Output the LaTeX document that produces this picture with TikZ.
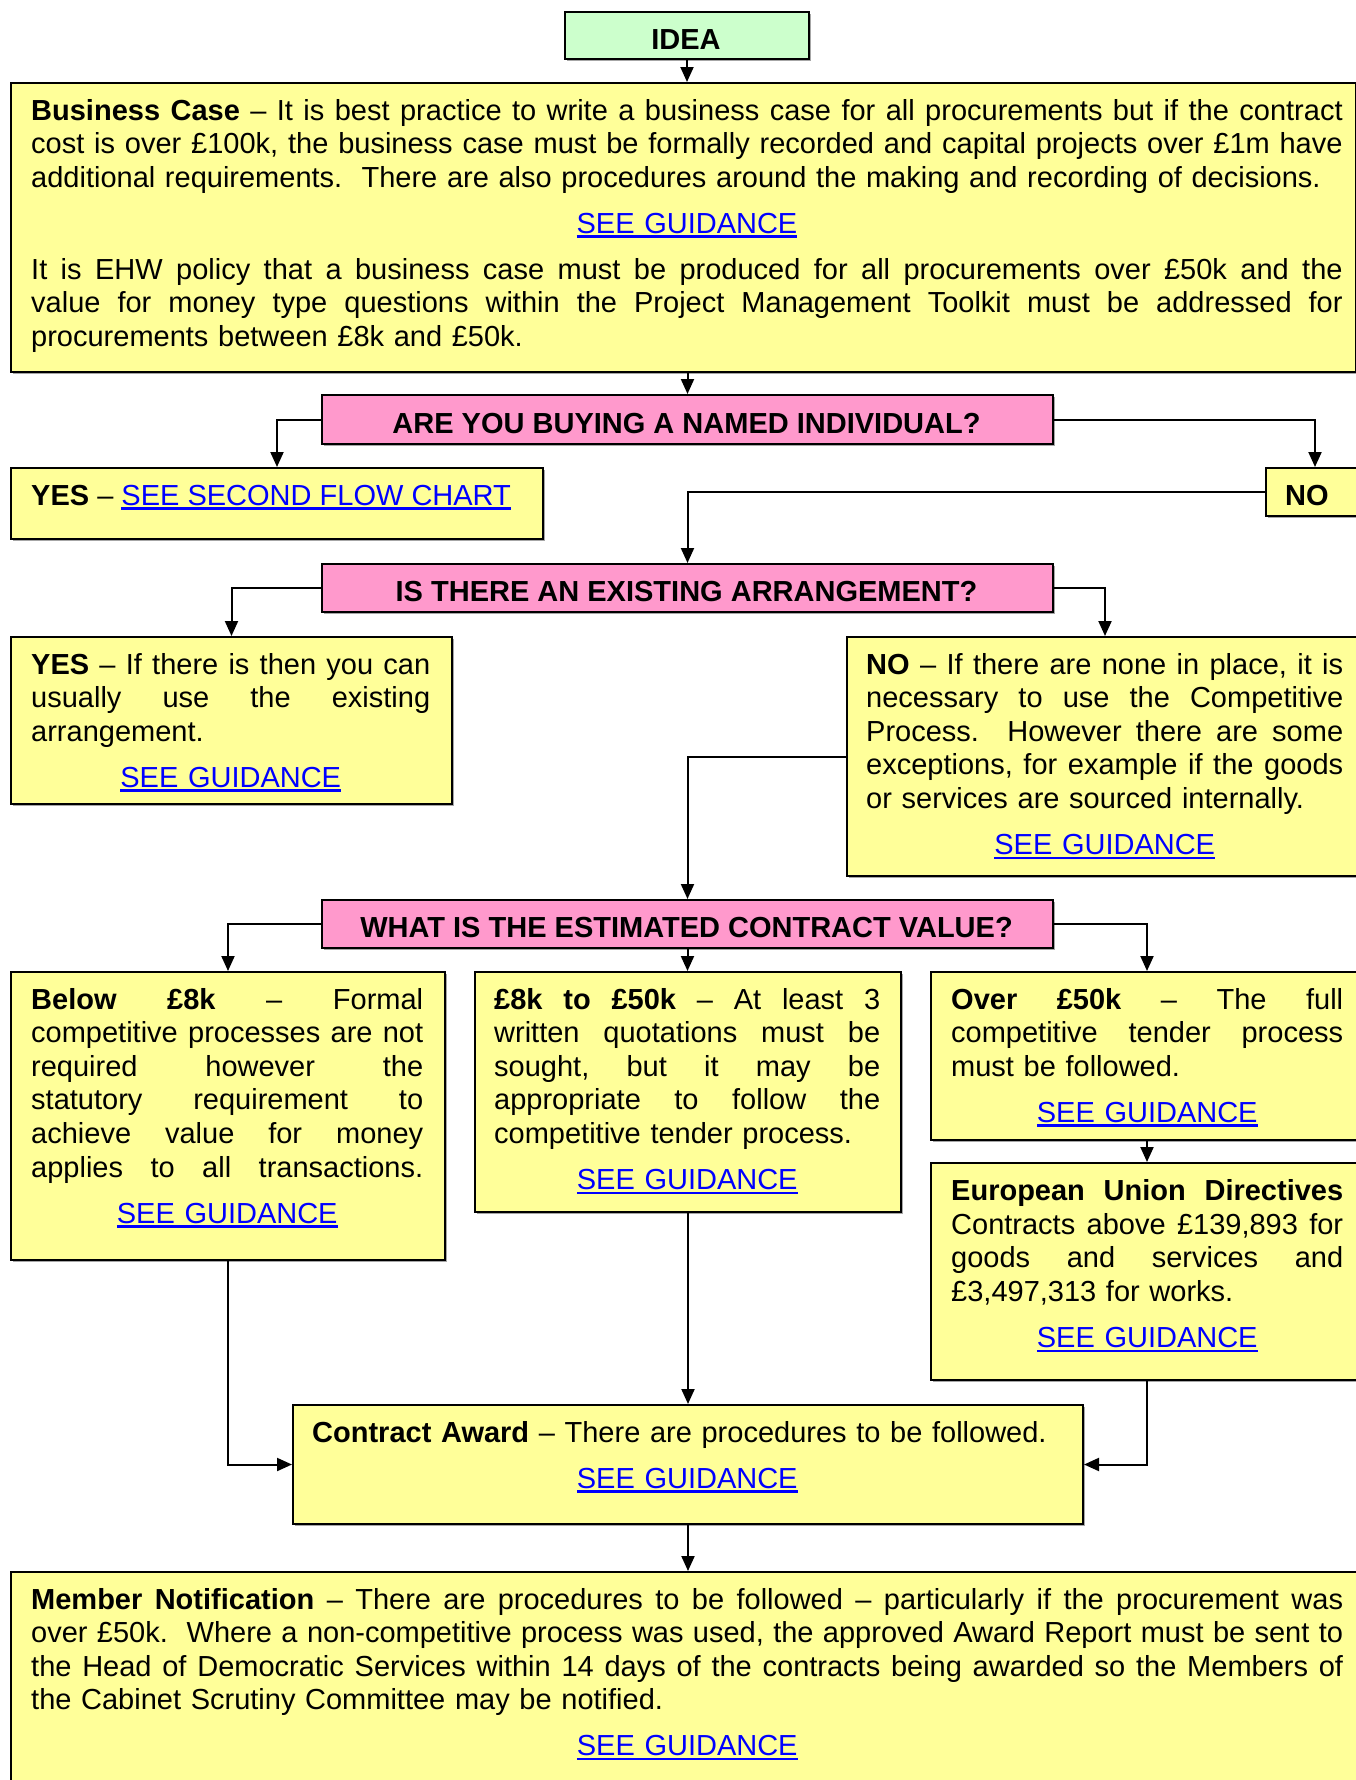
\documentclass[tikz,border=0pt]{standalone}
\usepackage{fontspec}
\setmainfont{Liberation Sans}
\usetikzlibrary{arrows.meta,shadows}
\definecolor{boxyellow}{HTML}{FFFF99}
\definecolor{qpink}{HTML}{FF99CC}
\definecolor{ideagreen}{HTML}{CCFFCC}
\definecolor{linkblue}{HTML}{0000FF}
\newcommand\fs{\fontsize{29.0pt}{33.6pt}\selectfont\frenchspacing}
\newcommand\jl[1]{{\spaceskip=0.278em plus 1fil minus 0.09em\relax\hbox to \hsize{#1}}\par}
\newcommand\gapv{\vspace{12.4pt}}
\newcommand\guidel[1]{{\color{linkblue}\setbox0=\hbox{#1}\rlap{\rule[-4.6pt]{\wd0}{2.4pt}}\box0}}
\newcommand\glink{\hbox to \hsize{\hss\guidel{SEE GUIDANCE}\hss}\par}
\begin{document}
\begin{tikzpicture}[x=1pt,y=-1pt,
  shapebox/.style={draw, line width=2pt, inner sep=0pt, anchor=north west,
    drop shadow={shadow xshift=1.5pt,shadow yshift=-1.5pt,opacity=1,fill=black!35}},
  ybox/.style={shapebox, fill=boxyellow},
  pbox/.style={shapebox, fill=qpink},
  gbox/.style={shapebox, fill=ideagreen},
  txt/.style={inner sep=0pt, anchor=base west, font=\fs},
  ctxt/.style={inner sep=0pt, anchor=base, font=\fs\bfseries},
  arr/.style={draw, line width=2pt, -{Triangle[length=15pt,width=13pt]}}
]
\fill[white] (0,0) rectangle (1356,1780);
\useasboundingbox (0,0) rectangle (1356,1780);

% boxes
\node[gbox, minimum width=244pt, minimum height=47pt] (idea) at (564,11) {};
\node[ybox, minimum width=1345pt, minimum height=289pt] (bc) at (10,82) {};
\node[pbox, minimum width=731pt, minimum height=49pt] (q1) at (321,394) {};
\node[ybox, minimum width=532pt, minimum height=71pt] (yes1) at (10,467) {};
\node[ybox, minimum width=98pt, minimum height=48pt] (no1) at (1265,467) {};
\node[pbox, minimum width=731pt, minimum height=48pt] (q2) at (321,563) {};
\node[ybox, minimum width=441pt, minimum height=167pt] (yes2) at (10,636) {};
\node[ybox, minimum width=516pt, minimum height=239pt] (no2) at (846,636) {};
\node[pbox, minimum width=731pt, minimum height=48pt] (q3) at (321,899) {};
\node[ybox, minimum width=434pt, minimum height=288pt] (a) at (10,971) {};
\node[ybox, minimum width=426pt, minimum height=240pt] (b) at (474,971) {};
\node[ybox, minimum width=432pt, minimum height=168pt] (c) at (930,971) {};
\node[ybox, minimum width=432pt, minimum height=217pt] (d) at (930,1162) {};
\node[ybox, minimum width=790pt, minimum height=119pt] (ca) at (292,1404) {};
\node[ybox, minimum width=1352pt, minimum height=230pt] (mn) at (10,1571) {};

% texts
\node[ctxt] (ideat) at (686,49) {IDEA};
\node[ctxt] (q1t) at (686.5,433) {ARE YOU BUYING A NAMED INDIVIDUAL?};
\node[ctxt] (q2t) at (686.5,601) {IS THERE AN EXISTING ARRANGEMENT?};
\node[ctxt] (q3t) at (686.5,937) {WHAT IS THE ESTIMATED CONTRACT VALUE?};

\node[txt, text width=1311.5pt] (bct) at (31,120) {%
\jl{\textbf{Business Case} – It is best practice to write a business case for all procurements but if the contract}
\jl{cost is over £100k, the business case must be formally recorded and capital projects over £1m have}
additional requirements.\ \ There are also procedures around the making and recording of decisions.\par
\gapv\glink\gapv
\jl{It is EHW policy that a business case must be produced for all procurements over £50k and the}
\jl{value for money type questions within the Project Management Toolkit must be addressed for}
procurements between £8k and £50k.\par};

\node[txt] (yes1t) at (31,505) {\textbf{YES} – \guidel{SEE SECOND FLOW CHART}};
\node[txt] (no1t) at (1285,505) {\textbf{NO}};

\node[txt, text width=399pt] (yes2t) at (31,674) {%
\jl{\textbf{YES} – If there is then you can}
\jl{usually use the existing}
arrangement.\par
\gapv\glink};

\node[txt, text width=477pt] (no2t) at (866,674) {%
\jl{\textbf{NO} – If there are none in place, it is}
\jl{necessary to use the Competitive}
\jl{Process.\ \ However there are some}
\jl{exceptions, for example if the goods}
or services are sourced internally.\par
\gapv\glink};

\node[txt, text width=392pt] (at) at (31,1009) {%
\jl{\textbf{Below £8k} – Formal}
\jl{competitive processes are not}
\jl{required however the}
\jl{statutory requirement to}
\jl{achieve value for money}
\jl{applies to all transactions.}
\gapv\glink};

\node[txt, text width=386pt] (bt) at (494,1009) {%
\jl{\textbf{£8k to £50k} – At least 3}
\jl{written quotations must be}
\jl{sought, but it may be}
\jl{appropriate to follow the}
competitive tender process.\par
\gapv\glink};

\node[txt, text width=392pt] (ct) at (951,1009) {%
\jl{\textbf{Over £50k} – The full}
\jl{competitive tender process}
must be followed.\par
\gapv\glink};

\node[txt, text width=392pt] (dt) at (951,1200.5) {%
\jl{\textbf{European Union Directives}}
\jl{Contracts above £139,893 for}
\jl{goods and services and}
£3,497,313 for works.\par
\gapv\glink};

\node[txt, text width=750pt] (cat) at (312,1442) {%
\textbf{Contract Award} – There are procedures to be followed.\par
\gapv\glink};

\node[txt, text width=1312pt] (mnt) at (31,1609) {%
\jl{\textbf{Member Notification} – There are procedures to be followed – particularly if the procurement was}
\jl{over £50k.\ \ Where a non-competitive process was used, the approved Award Report must be sent to}
\jl{the Head of Democratic Services within 14 days of the contracts being awarded so the Members of}
the Cabinet Scrutiny Committee may be notified.\par
\gapv\glink};

% connectors
\draw[arr] (idea.south) -- (idea.south |- bc.north);
\draw[arr] (q1.north |- bc.south) -- (q1.north);
\draw[arr] (q1.west) -| (yes1.north);
\draw[arr] (q1.east) -| (no1.north);
\draw[arr] (no1.west) -| (q2.north);
\draw[arr] (q2.west) -| (yes2.north);
\draw[arr] (q2.east) -| (no2.north);
\draw[arr] (no2.west) -| (q3.north);
\draw[arr] (q3.west) -| (a.north);
\draw[arr] (q3.south) -- (q3.south |- b.north);
\draw[arr] (q3.east) -| (c.north);
\draw[arr] (c.south) -- (d.north);
\draw[arr] (a.south) |- (ca.west);
\draw[arr] (b.south) -- (b.south |- ca.north);
\draw[arr] (d.south) |- (ca.east);
\draw[arr] (ca.south) -- (ca.south |- mn.north);
\end{tikzpicture}
\end{document}
